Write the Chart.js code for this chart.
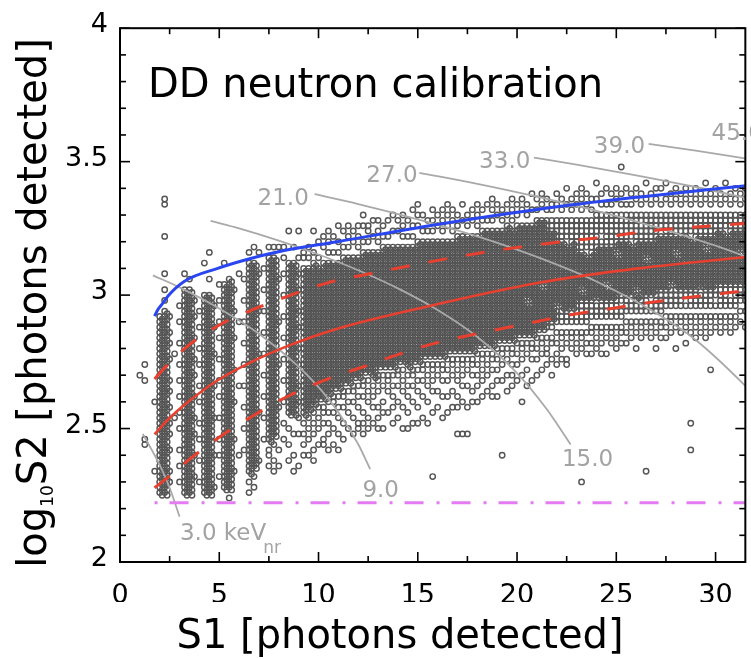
<!DOCTYPE html>
<html>
<head>
<meta charset="utf-8">
<script src="https://cdn.jsdelivr.net/npm/chart.js@4.4.1/dist/chart.umd.min.js"></script>
<style>
html,body{margin:0;padding:0;background:#fff;}
canvas{display:block;}
</style>
</head>
<body>
<canvas id="c" width="751" height="659"></canvas>
<script>
// ---------------- data ----------------
// Axis ticks
const xMajorTicks = [0, 5, 10, 15, 20, 25, 30];
const xMinorTicks = [2.5, 7.5, 12.5, 17.5, 22.5, 27.5];
const yMajorTicks = [2, 2.5, 3, 3.5, 4];
const yMinorTicks = [2.1, 2.2, 2.3, 2.4, 2.6, 2.7, 2.8, 2.9, 3.1, 3.2, 3.3, 3.4, 3.6, 3.7, 3.8, 3.9];

// Event map: one string per S1 column
// (S1 = 1.0 + 0.25*column), one character per log10S2 row (log = 3.50 - 0.02*row).
// 'o' = one event in the cell, '8' = two events in the cell (dense core), '.' = none.
const MAP_S1_START = 1.0, MAP_S1_STEP = 0.25, MAP_LOG_TOP = 3.50, MAP_LOG_STEP = 0.02;
const eventMapColumns = [
".......... .......... .......... .......... o",
".......... .......... .......... ........o. .o........ ..oo",
"",
".......... .......... .......... .......... .....o.... ........o",
".......... .......... .........8 8888888888 8888888888 8888888888 888",
".......oo. ....o..... .o..o.o.88 8888888888 8888888888 8888888888 888",
".......... .......... .........o ..o.o..o.. .o.o..o..o .o..o...o. o",
".......... .......... .......... ......o... ........o.",
".......... .......... .......o.. o...o...o. .o..o..o.. o...o..o.. o",
".......... .......... .o..888888 8888888888 8888888888 8888888888 888",
".......... .......... ..o.888888 8888888888 8888888888 8888888888 888",
".......... .......... ......o..o ...o...o.. o...o...o. .o...o...o",
".......... .......... ........o. .o...o..o. ..o..o...o ..o...o... o",
".......... .........o .....88888 8888888888 8888888888 8888888888 888",
".......... .......o.. ..o..88888 8888888888 8888888888 8888888888 888",
".......... .......... .......o.. .o....o... ..o.....o. .....o.... .o",
".......... .......... ...o..o... o..o...o.. .o..o...o. ..o..o...o",
".......... .........o ...8888888 8888888888 8888888888 8888888888 88",
".......... .......... ..88888888 8888888888 8888888888 8888888888 88.o",
".......... .......... ....o...o. ...o.....o .....o.... ..o.....o.",
".......... .......... .o........ o......... ..o....... .....o....",
".......... .......... ..o...o... o...o...o. ..o...o... o...o.....",
".......... .......o.8 8888888888 8888888888 8888888888 888888888. o.o",
".......... ......o..8 8888888888 8888888888 8888888888 88888888.o .o",
".......... .......o.. .o......o. ......o... .......o.. ......o...",
".......... .......... o...o...o. ..o...o... o...o...o. ..o",
".......... ......o.88 8888888888 8888888888 8888888888 888.oo.o..",
".......... ......o.88 8888888888 8888888888 8888888888 88.o..o.o.",
".......... ......o... ..o....... o.......o. ......o... ....o..o..",
".......... ......o.o. .o...o...o ...o...o.. .o...o...o ..o",
".......... ...o.....8 8888888888 8888888888 88888888.. o..o..o...",
".......... ......o..8 8888888888 8888888888 88888888.. .o...o..o.",
".......... ...o....o. .o..o...o. .o...o..o. ..o..o..o. .o.....o..",
".......... .......oo. 8888888888 8888888888 88888888.o .o.o.o....",
".......... ......o.o. 8888888888 8888888888 8888888.o. o.o..o....",
".......... ...o...o.8 8888888888 8888888888 888888.o.o .o..o.o...",
".......... .....o..o. 8888888888 8888888888 88888.o.o. o..o......",
".......... ....o.o..8 8888888888 8888888888 88888.oo.o ..oo......",
".......... ...o.o.o.8 8888888888 8888888888 8888.o.o.o .o..o.....",
".......... ....o..o.8 8888888888 8888888888 888.oo.o.. o..o......",
".......... ..o..o.o.8 8888888888 8888888888 888.o.o.o. .o..o.....",
".......... ...o..o.88 8888888888 8888888888 88.oo.o..o ..o.......",
".......... ..o.o.o.88 8888888888 8888888888 88.o.o.o.. o.........",
".......... ...o.o..88 8888888888 8888888888 8.oo.o..o. .o........",
".......... ..o.o.o.88 8888888888 8888888888 8.o.o.o..o o.........",
".......... o.o..o.888 8888888888 8888888888 .oo.o..o.o .o........",
".......... ..oo.o.888 8888888888 8888888888 .o.o.o..o. o.........",
".......... .o..o..888 8888888888 8888888888 8.o.o.o..o",
".......... .o.o.o.888 8888888888 888888888. oo.o..o.o. o",
".......... ..o.o.8888 8888888888 888888888. o.o..o.o.. o",
".......... .o..o.8888 8888888888 888888888. oo.o...o..",
".......... o..o..8888 8888888888 888888888. o.o.o.o..o",
".......... .o.o..8888 8888888888 88888888.o o.o..o..o.",
".......... o.o.o.8888 8888888888 88888888.o .o.o..o... o",
".......... .o..o.8888 8888888888 888888888. o.o.o..o.. o",
".........o ..o.o.8888 8888888888 88888888.o o.o..o...o",
"........o. o.o..88888 8888888888 88888888.o .o.o..o..o",
".......... o..o.88888 8888888888 8888888.oo .o..o...o.",
".......... .o.o.88888 8888888888 8888888.o. o.o..o...o",
".........o .o.o.88888 8888888888 8888888.oo .o.o...o.. .........o",
".......... o.o..88888 8888888888 8888888.o. o..o..o...",
".........o .o.o.88888 8888888888 8888888.oo .o..o...o.",
"........o. o.o..88888 8888888888 888888.o.o .o..o..o..",
".........o .o.o.88888 8888888888 888888.oo. o..o..o...",
".......... o.o.888888 8888888888 888888.o.o .o..o.o... .o",
"........o. .o..888888 8888888888 888888.oo. o.o..o.... .o",
".......... o.o.888888 8888888888 888888.o.o ..o...o... .o",
".........o .o..888888 8888888888 888888.oo. o..o.o....",
"........o. o.o.888888 8888888888 88888.o.o. o.o..o....",
".........o .o.8888888 8888888888 88888.oo.o .o..o.....",
"........o. .o.8888888 8888888888 88888.o.o. o..o......",
".......o.o .o.8888888 8888888888 88888.oo.o ..o.o.....",
"........o. o..8888888 8888888888 8888.o.o.o .o..o.....",
".........o .o.8888888 8888888888 8888.oo.o. .o........ .....o",
"........o. o.88888888 8888888888 8888.o.o.. o..o......",
".......o.o .o.8888888 8888888888 8888.oo.o. o.o.......",
"........o. o.88888888 8888888888 888.o.o.o. .o........",
".......o.o ..88888888 8888888888 888.oo.o.. o....o....",
"........o. o.88888888 888888.888 888.o.o..o ..o.......",
"......o..o ..88888888 8888888888 888.oo.o.. .o",
".......o.o .888888888 8888888888 88.o.o.o.. o",
"......o.o. .888888888 888.888888 88.oo.o..o",
".......o.o .oo8888888 8888888888 oo.o.oo.o.",
"........oo .oo8888888 8888888888 oo.oo..o.. o",
"......o.o. .oooo88888 8888888.oo o.o.o.o.o.",
".......o.o .oooo88888 88888888oo o.oo.o.o..",
".....o..o. .oooo.8888 88888888oo o.o.o..oo.",
".......o.o .oooo88888 88888888.o o.oo.o....",
"......o.o. .oooooo888 888888oooo o.o.o.o...",
".....o.o.o .oooooo888 8888.8oooo o.oo.o.... .......... .......... o",
"......o.o. .oooooo.88 888888oooo o.o.o.o...",
".......o.o .oooooo888 888888oooo .oo.o.o...",
"....o..o.. oooooo8888 888888.ooo .o.o.o....",
"......o.o. oooo.o8888 888888oooo .oo.o.o...",
".....o..o. oooooo8888 888.88oooo .o.o..o...",
"......o.o. oooooo8888 888888oooo .oo.o.....",
".....o.o.. ooooo88.88 88888ooooo .o.o.o....",
".o....o.o. ooooo88888 88888oo.oo .oo.o.....",
".....o..o. ooooo88888 88888oooo. o.o.o.....",
"......o.o. ooooo.8888 88888oooo. oo.o......",
".....o.o.. ooooo88888 8888.8ooo. o.o..o....",
"......o.o. ooooo88888 88888oooo. oo.o......",
"....o..o.. ooooo888.8 88888oooo. o.o....... .......... ........o",
"......o.o. ooooo88888 88888o.oo. oo.o......",
".....o.o.. oooo888888 8888ooooo. o.o..o....",
".....o..o. ooo.888888 8888ooooo. oo.o......",
"....o..o.. oooo888888 8888oooo.o .o.o......",
"......o.o. oooo888888 888.oooo.o o.o.......",
".....o.o.. oooo888.88 8888oooo.o .o...o....",
"......o.o. oooo888888 8888oooo.o o.o.......",
".....o.o.. oooo888888 8888oo.o.o .o..o.....",
"......o.o. oooo.88888 8888oooo.o o.o....... .........o ....o",
".....o.o.. oooo888888 8888oooo.o .o.o......",
"......o.o. oooo888888 8888.ooo.o o.o.......",
"....o..o.. oooo88.888 8888oooo.o .o.o......",
"......o.o. oooo888888 8888oooo.o o.o......o",
".....o.o.. ooo8888888 888ooo.o.o .o........",
"......o.o. ooo8888888 888ooooo.o o.o.......",
"....o..o.. ooo.888888 888ooooo.o .o........",
"......o.o. ooo8888888 888oo.oo.o o.o.......",
".....o.o.. ooo8888888 888ooooo.o .o........",
"......o.o. ooo8888.88 888oooo.o. o",
".....o.o.. ooo8888888 888oooo.o. .o"
];

// Fitted band lines [S1, log10 S2]
const bandUpperBlue   = [[1.74,2.921],[1.91,2.946],[2.16,2.97],[2.41,2.996],[3.25,3.052],[4.92,3.10],[6.58,3.137],[8.27,3.167],[10.95,3.20],[15.58,3.26],[21.1,3.322],[26.1,3.367],[31.66,3.411]];
const bandMedianRed   = [[1.74,2.478],[2.41,2.533],[3.25,2.589],[4.92,2.681],[6.58,2.748],[8.27,2.804],[10.95,2.874],[15.58,2.959],[21.1,3.046],[26.1,3.10],[31.66,3.144]];
const bandUpperRed    = [[1.74,2.686],[2.41,2.74],[3.42,2.81],[5.03,2.889],[6.77,2.948],[8.6,3.0],[10.45,3.046],[12.7,3.082],[14.6,3.11],[16.5,3.137],[18.5,3.162],[20.5,3.184],[22.7,3.204],[24.6,3.219],[26.6,3.24],[28.5,3.252],[30.5,3.263],[31.66,3.27]];
const bandLowerRed    = [[1.74,2.278],[2.5,2.322],[3.57,2.389],[5.13,2.474],[6.77,2.551],[8.48,2.622],[10.45,2.685],[12.6,2.74],[14.5,2.79],[16.4,2.83],[18.3,2.86],[20.2,2.889],[22.7,2.926],[24.6,2.948],[26.5,2.97],[28.4,2.989],[30.4,3.007],[31.66,3.017]];
const s2Threshold     = [[1.74,2.222],[32,2.222]];

// Energy contours [S1, log10 S2]
const contour3  = [[1.15,2.48],[1.6,2.42],[2.0,2.364],[2.5,2.278],[3.0,2.17]];
const contour9  = [[1.66,3.074],[3,3.029],[5,2.95],[7,2.855],[9,2.732],[10,2.655],[11,2.561],[12,2.441],[12.6,2.348]];
const contour15 = [[4.57,3.278],[6,3.25],[8,3.204],[10,3.152],[12,3.093],[14,3.025],[16,2.944],[18,2.843],[20,2.708],[21.5,2.572],[22.7,2.44]];
const contour21 = [[9.8,3.378],[12,3.341],[15,3.284],[18,3.22],[21,3.143],[24,3.051],[27,2.933],[29,2.832],[31.5,2.66],[32,2.62]];
const contour27 = [[15.08,3.458],[18,3.417],[21,3.369],[24,3.316],[27,3.255],[30,3.185],[32,3.131]];
const contour33 = [[20.85,3.515],[23,3.489],[26,3.449],[29,3.405],[32,3.356]];
const contour39 = [[26.63,3.567],[29,3.541],[32,3.506]];

// Contour labels: text, left S1, baseline log10 S2
const contourLabelText = ['9.0', '15.0', '21.0', '27.0', '33.0', '39.0', '45.0'];
const contourLabelS1   = [12.21, 22.26, 6.93, 12.41, 18.09, 23.87, 29.80];
const contourLabelLog  = [2.243, 2.358, 3.339, 3.424, 3.476, 3.532, 3.580];
const keVLabel = {text: '3.0 keV', sub: 'nr', s1: 3.02, log: 2.081};
const plotTitle = {text: 'DD neutron calibration', s1: 1.41, log: 3.741};

// ---------------- build datasets ----------------
const eventPoints = [];
eventMapColumns.forEach((col, c) => {
  const cells = col.replace(/ /g, '');
  for (let i = 0; i < cells.length; i++) {
    const ch = cells[i];
    if (ch === 'o' || ch === '8') eventPoints.push({x: MAP_S1_START + MAP_S1_STEP * c, y: MAP_LOG_TOP - MAP_LOG_STEP * i});
    if (ch === '8') eventPoints.push({x: MAP_S1_START + MAP_S1_STEP * (c + 0.5), y: MAP_LOG_TOP - MAP_LOG_STEP * (i + 0.5)});
  }
});
const toXY = arr => arr.map(p => ({x: p[0], y: p[1]}));
const FONT = "'DejaVu Sans', 'Liberation Sans', sans-serif";

function lineSet(arr, color, width, dash, order) {
  return {data: toXY(arr), showLine: true, borderColor: color, backgroundColor: color, borderWidth: width,
    borderDash: dash || [], pointRadius: 0, fill: false, cubicInterpolationMode: 'monotone', order: order};
}

const datasets = [
  {data: eventPoints, showLine: false, pointRadius: 2.7, pointBorderWidth: 1.45, borderColor: '#555555',
   backgroundColor: 'rgba(0,0,0,0)', pointBackgroundColor: 'rgba(0,0,0,0)', pointBorderColor: '#555555', order: 10},
  lineSet(contour3, '#a9a9a9', 1.8, null, 5),
  lineSet(contour9, '#a9a9a9', 1.8, null, 5),
  lineSet(contour15, '#a9a9a9', 1.8, null, 5),
  lineSet(contour21, '#a9a9a9', 1.8, null, 5),
  lineSet(contour27, '#a9a9a9', 1.8, null, 5),
  lineSet(contour33, '#a9a9a9', 1.8, null, 5),
  lineSet(contour39, '#a9a9a9', 1.8, null, 5),
  lineSet(s2Threshold, '#e57bf2', 3, [3, 12, 19, 13], 2),
  lineSet(bandLowerRed, '#e8402f', 3, [19, 19], 1),
  lineSet(bandUpperRed, '#e8402f', 3, [19, 19], 1),
  lineSet(bandMedianRed, '#e8402f', 2.6, null, 1),
  lineSet(bandUpperBlue, '#2a46f0', 3, null, 0)
];

// ---------------- frame, ticks and texts ----------------
const framePlugin = {
  id: 'frameAndText',
  afterDraw(chart) {
    const {ctx, chartArea: a} = chart;
    const xs = chart.scales.x, ys = chart.scales.y;
    ctx.save();
    ctx.strokeStyle = '#000';
    ctx.lineWidth = 2;
    ctx.strokeRect(a.left, a.top, a.right - a.left, a.bottom - a.top);
    ctx.lineWidth = 1.6;
    const seg = (x1, y1, x2, y2) => { ctx.beginPath(); ctx.moveTo(x1, y1); ctx.lineTo(x2, y2); ctx.stroke(); };
    const xt = (vals, len) => vals.forEach(v => { const p = xs.getPixelForValue(v); seg(p, a.bottom, p, a.bottom - len); seg(p, a.top, p, a.top + len); });
    const yt = (vals, len) => vals.forEach(v => { const p = ys.getPixelForValue(v); seg(a.left, p, a.left + len, p); seg(a.right, p, a.right - len, p); });
    xt(xMajorTicks, 10); xt(xMinorTicks, 6);
    yt(yMajorTicks, 10); yt(yMinorTicks, 6);

    // title inside plot
    ctx.fillStyle = '#000';
    ctx.textAlign = 'left';
    ctx.textBaseline = 'alphabetic';
    ctx.font = '40px ' + FONT;
    ctx.fillText(plotTitle.text, xs.getPixelForValue(plotTitle.s1), ys.getPixelForValue(plotTitle.log));

    // contour labels
    ctx.fillStyle = '#a3a3a3';
    ctx.font = '23px ' + FONT;
    contourLabelText.forEach((t, k) => ctx.fillText(t, xs.getPixelForValue(contourLabelS1[k]), ys.getPixelForValue(contourLabelLog[k])));
    const kx = xs.getPixelForValue(keVLabel.s1), ky = ys.getPixelForValue(keVLabel.log);
    ctx.fillText(keVLabel.text, kx, ky);
    const kw = ctx.measureText(keVLabel.text).width;
    ctx.font = '17px ' + FONT;
    ctx.fillText(keVLabel.sub, kx + kw - 3, ky + 13);

    // axis titles
    ctx.fillStyle = '#000';
    ctx.font = '40px ' + FONT;
    ctx.textAlign = 'center';
    ctx.fillText('S1 [photons detected]', 400, 648);

    ctx.save();
    ctx.translate(46, 303);
    ctx.rotate(-Math.PI / 2);
    ctx.textAlign = 'left';
    const big = '40px ' + FONT, small = '17px ' + FONT;
    ctx.font = big;
    const w1 = ctx.measureText('log').width, w3 = ctx.measureText('S2 [photons detected]').width;
    ctx.font = small;
    const w2 = ctx.measureText('10').width;
    const x0 = -(w1 + w2 + w3) / 2;
    ctx.font = big; ctx.fillText('log', x0, 0);
    ctx.font = small; ctx.fillText('10', x0 + w1, 7);
    ctx.font = big; ctx.fillText('S2 [photons detected]', x0 + w1 + w2, 0);
    ctx.restore();
    ctx.restore();
  }
};

new Chart(document.getElementById('c'), {
  type: 'scatter',
  data: {datasets},
  options: {
    responsive: false,
    animation: false,
    devicePixelRatio: 1,
    events: [],
    layout: {padding: {left: 0, right: 4, top: 22, bottom: 57}},
    plugins: {legend: {display: false}, tooltip: {enabled: false}},
    scales: {
      x: {
        type: 'linear', position: 'bottom', min: 0, max: 31.5,
        grid: {display: false, drawTicks: false}, border: {display: false},
        ticks: {padding: 18, color: '#000', font: {family: FONT, size: 27}, maxRotation: 0, autoSkip: false,
                callback: v => String(v)},
        afterBuildTicks: s => { s.ticks = xMajorTicks.map(v => ({value: v})); },
        afterFit: s => { s.height = 40; }
      },
      y: {
        type: 'linear', position: 'left', min: 2, max: 4,
        grid: {display: false, drawTicks: false}, border: {display: false},
        ticks: {padding: 12, labelOffset: -3, color: '#000', font: {family: FONT, size: 27}, autoSkip: false,
                callback: v => String(v)},
        afterBuildTicks: s => { s.ticks = yMajorTicks.map(v => ({value: v})); },
        afterFit: s => { s.width = 120; }
      }
    }
  },
  plugins: [framePlugin]
});
</script>
</body>
</html>
